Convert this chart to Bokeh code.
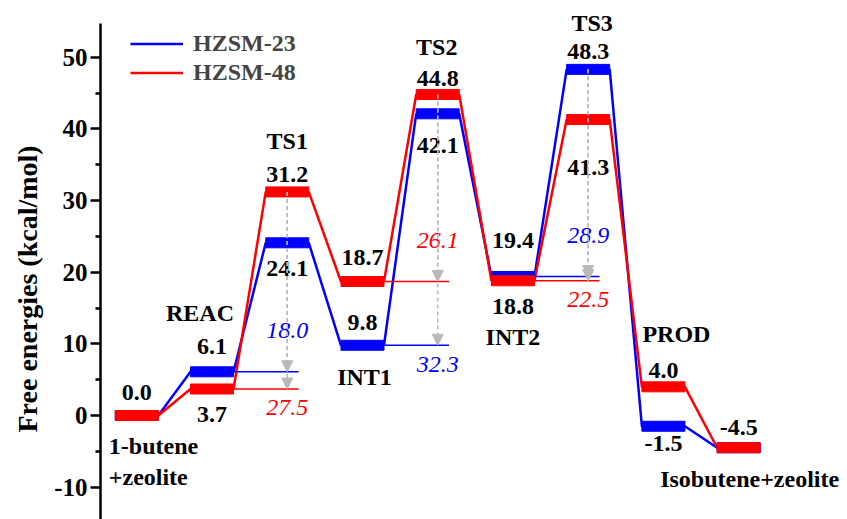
from bokeh.plotting import figure
from bokeh.models import (Range1d, ColumnDataSource, Arrow, NormalHead, Legend,
                          LegendItem, FixedTicker, CustomJSTickFormatter, Title)
from bokeh.core.properties import value
from bokeh.embed import file_html
from bokeh.resources import INLINE

# ---------------- data ----------------
states = ["1-butene\n+zeolite", "REAC", "TS1", "INT1", "TS2", "INT2", "TS3", "PROD",
          "Isobutene+zeolite"]
hzsm23 = [0.0, 6.1, 24.1, 9.8, 42.1, 19.4, 48.3, -1.5, -4.5]
hzsm48 = [0.0, 3.7, 31.2, 18.7, 44.8, 18.8, 41.3, 4.0, -4.5]
series_names = ["HZSM-23", "HZSM-48"]
y_ticks = [-10, 0, 10, 20, 30, 40, 50]
y_label = "Free energies (kcal/mol)"
# (transition state index, preceding intermediate index)
barrier_steps = [(2, 1), (4, 3), (6, 5)]

# ---------------- styles ----------------
BLUE = "#0000FF"
RED = "#FF0000"
GRAY = "#b9b9b9"
FONT_NAME = "Liberation Serif"
FONT = value(FONT_NAME)
HALF = 0.286          # half bar width (x units)
REF_EXT = 0.15        # reference line extension past TS centre
# label offsets in screen px (negative = above)
blue_label_dy = [None, -25, 26, -23, 32, -36, -18, 17, None]
red_label_dy = [-23, 26, -17, -24, -16, 26, 48, -16, -20]
name_anchor = [1, 0, 1, 0, 1, 1, 0, 1, 1]      # 0 -> HZSM-23, 1 -> HZSM-48
name_dy = [30, -59, -51, 32, -47, 56, -46, -53, 31]
name_dx = [-28, -12, 0, 2, -1, 0, 4, 13, 11]

series = [hzsm23, hzsm48]
colors = [BLUE, RED]
idx = list(range(len(states)))

p = figure(width=847, height=519, output_backend="svg", toolbar_location=None,
           x_range=Range1d(-0.4825, 9.447), y_range=Range1d(-14.51, 57.91),
           x_axis_location=None,
           min_border_left=100, min_border_right=0, min_border_top=0,
           min_border_bottom=0)
p.xgrid.visible = False
p.ygrid.visible = False
p.outline_line_color = None

ax = p.yaxis[0]
ax.ticker = FixedTicker(ticks=y_ticks, minor_ticks=[t - 5 for t in y_ticks])
ax.formatter = CustomJSTickFormatter(code="return tick.toFixed(0);")
ax.bounds = (-19.5, 54.7)
ax.axis_line_width = 2.5
ax.axis_line_color = "black"
ax.major_tick_line_width = 2.5
ax.minor_tick_line_width = 2.5
ax.major_tick_out = 10
ax.major_tick_in = 0
ax.minor_tick_out = 5
ax.minor_tick_in = 0
ax.major_label_standoff = 3
ax.major_label_text_font = FONT_NAME
ax.major_label_text_font_size = "25px"
ax.major_label_text_font_style = "bold"
ax.major_label_text_color = "black"

# axis title as a left-side title (allows shifting it along the axis)
p.add_layout(Title(text=y_label, align="left", offset=87, standoff=18,
                   text_font=FONT_NAME, text_font_size="28px",
                   text_font_style="bold", text_color="black"), "left")

# connecting profile lines
line_renderers = []
for vals, col in zip(series, colors):
    xs = [i + s * HALF for i in idx for s in (-1, 1)]
    ys = [v for v in vals for _ in (0, 1)]
    r = p.line(xs, ys, line_color=col, line_width=2.5)
    line_renderers.append(r)

# reference lines at intermediate levels
for ts, it in barrier_steps:
    for vals, col in zip(series, colors):
        p.segment(x0=[it + HALF], y0=[vals[it]], x1=[ts + REF_EXT], y1=[vals[it]],
                  line_color=col, line_width=1.5)

# energy level bars
for vals, col in zip(series, colors):
    p.rect(x=idx, y=vals, width=2 * HALF, height=10, height_units="screen",
           fill_color=col, line_color=col)

# barrier arrows and labels
for ts, it in barrier_steps:
    top = max(s[ts] for s in series)
    refs = [s[it] for s in series]
    for vals, col in zip(series, colors):
        p.add_layout(Arrow(x_start=ts, y_start=top, x_end=ts, y_end=vals[it],
                           line_color=GRAY, line_width=1.5, line_dash="4 3",
                           end=NormalHead(size=11, fill_color=GRAY, line_color=GRAY)))
        higher = vals[it] >= max(refs)
        dy = -41 if higher else 19
        p.text(x=[ts], y=[vals[it]], text=[f"{vals[ts] - vals[it]:.1f}"],
               y_offset=dy, text_color=col, text_font=FONT, text_font_size="24px",
               text_font_style="italic", text_align="center", text_baseline="middle")

# value labels
for vals, dys in zip(series, [blue_label_dy, red_label_dy]):
    sel = [i for i in idx if dys[i] is not None]
    src = ColumnDataSource(dict(x=sel, y=[vals[i] for i in sel],
                                t=[f"{vals[i]:.1f}" for i in sel],
                                dy=[dys[i] for i in sel]))
    p.text(x="x", y="y", text="t", y_offset="dy", source=src, text_color="black",
           text_font=FONT, text_font_size="24px", text_font_style="bold",
           text_align="center", text_baseline="middle")

# state names
for i, name in enumerate(states):
    anchor = series[name_anchor[i]][i]
    lines = name.split("\n")
    for j, ln in enumerate(lines):
        p.text(x=[i], y=[anchor], text=[ln], x_offset=name_dx[i],
               y_offset=name_dy[i] + 31 * j, text_color="black", text_font=FONT,
               text_font_size="24px", text_font_style="bold",
               text_align="left" if len(lines) > 1 else "center",
               text_baseline="middle")

legend = Legend(items=[LegendItem(label=n, renderers=[r])
                       for n, r in zip(series_names, line_renderers)],
                location=(30, 432), padding=0, margin=0, spacing=0,
                glyph_width=53, glyph_height=29, label_height=29, label_standoff=10,
                label_text_font=FONT_NAME, label_text_font_size="24px",
                label_text_font_style="bold", border_line_color=None,
                background_fill_alpha=0)
p.add_layout(legend)

open("out.html", "w").write(file_html(p, INLINE))
